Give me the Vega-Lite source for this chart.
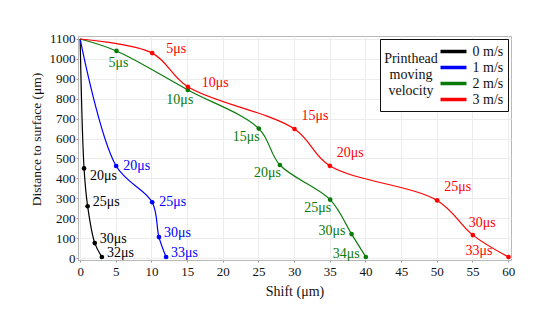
{
  "$schema": "https://vega.github.io/schema/vega-lite/v6.json",
  "width": 433,
  "height": 224,
  "autosize": {"type": "none"},
  "padding": {"left": 78, "top": 36, "right": 39, "bottom": 62},
  "background": "white",
  "config": {
    "font": "Liberation Serif",
    "view": {"stroke": "#b8b8b8", "strokeWidth": 1},
    "axis": {
      "labelFont": "Liberation Serif",
      "labelFontSize": 13,
      "labelColor": "#111",
      "titleFont": "Liberation Serif",
      "titleFontSize": 14,
      "titleFontWeight": "normal",
      "titleColor": "#111",
      "gridColor": "#ececec",
      "domainColor": "#b8b8b8",
      "tickColor": "#999",
      "tickSize": 2
    },
    "legend": {
      "labelFont": "Liberation Serif",
      "titleFont": "Liberation Serif",
      "strokeColor": "#111"
    }
  },
  "data": {
    "values": [
      {"v": "0 m/s", "x": 0, "y": 1100, "t": null},
      {"v": "0 m/s", "x": 0.55, "y": 450, "t": "20μs"},
      {"v": "0 m/s", "x": 1.05, "y": 260, "t": "25μs"},
      {"v": "0 m/s", "x": 2.05, "y": 75, "t": "30μs"},
      {"v": "0 m/s", "x": 3.05, "y": 5, "t": "32μs"},
      {"v": "1 m/s", "x": 0, "y": 1100, "t": null},
      {"v": "1 m/s", "x": 5.05, "y": 462, "t": "20μs"},
      {"v": "1 m/s", "x": 10.1, "y": 280, "t": "25μs"},
      {"v": "1 m/s", "x": 11.05, "y": 105, "t": "30μs"},
      {"v": "1 m/s", "x": 12.05, "y": 5, "t": "33μs"},
      {"v": "2 m/s", "x": 0, "y": 1100, "t": null},
      {"v": "2 m/s", "x": 5.1, "y": 1040, "t": "5μs"},
      {"v": "2 m/s", "x": 15.1, "y": 844, "t": "10μs"},
      {"v": "2 m/s", "x": 25.05, "y": 650, "t": "15μs"},
      {"v": "2 m/s", "x": 28.0, "y": 467, "t": "20μs"},
      {"v": "2 m/s", "x": 35.05, "y": 293, "t": "25μs"},
      {"v": "2 m/s", "x": 38.05, "y": 120, "t": "30μs"},
      {"v": "2 m/s", "x": 40.05, "y": 5, "t": "34μs"},
      {"v": "3 m/s", "x": 0, "y": 1100, "t": null},
      {"v": "3 m/s", "x": 10.1, "y": 1029, "t": "5μs"},
      {"v": "3 m/s", "x": 15.1, "y": 860, "t": "10μs"},
      {"v": "3 m/s", "x": 30.05, "y": 648, "t": "15μs"},
      {"v": "3 m/s", "x": 35.0, "y": 463, "t": "20μs"},
      {"v": "3 m/s", "x": 50.05, "y": 289, "t": "25μs"},
      {"v": "3 m/s", "x": 55.05, "y": 115, "t": "30μs"},
      {"v": "3 m/s", "x": 60.05, "y": 5, "t": "33μs"}
    ]
  },
  "encoding": {
    "x": {
      "field": "x", "type": "quantitative",
      "scale": {"domain": [-0.3, 60.4], "nice": false, "zero": false},
      "axis": {"title": "Shift (μm)", "values": [0,5,10,15,20,25,30,35,40,45,50,55,60], "format": "d", "labelPadding": 3, "titlePadding": 6}
    },
    "y": {
      "field": "y", "type": "quantitative",
      "scale": {"domain": [-10, 1115], "nice": false, "zero": false},
      "axis": {"title": "Distance to surface (μm)", "values": [0,100,200,300,400,500,600,700,800,900,1000,1100], "format": "d", "labelPadding": 1, "titlePadding": 6, "titleFontSize": 13.5, "titleY": 103}
    },
    "color": {
      "field": "v", "type": "nominal",
      "scale": {"domain": ["0 m/s", "1 m/s", "2 m/s", "3 m/s"], "range": ["#000000", "#0000ff", "#0a7a0a", "#ff0000"]}
    }
  },
  "layer": [
    {
      "mark": {"type": "line", "interpolate": "catmull-rom", "strokeWidth": 1.2},
      "encoding": {
        "color": {
          "field": "v", "type": "nominal",
          "scale": {"domain": ["0 m/s", "1 m/s", "2 m/s", "3 m/s"], "range": ["#000000", "#0000ff", "#0a7a0a", "#ff0000"]},
          "legend": {
            "title": ["Printhead", "moving", "velocity"],
            "orient": "top-right",
            "offset": 3,
            "titleOrient": "left",
            "titleAnchor": "middle",
            "titleAlign": "center",
            "titleBaseline": "middle",
            "titleFontSize": 14,
            "titleFontWeight": "normal",
            "titleColor": "#111",
            "titleLineHeight": 16,
            "titlePadding": -20,
            "labelFontSize": 14,
            "labelColor": "#111",
            "labelOffset": 10.5,
            "symbolType": "M-2,0H2",
            "symbolStrokeWidth": 3.5,
            "symbolSize": 169,
            "symbolOffset": 0,
            "rowPadding": 0,
            "strokeColor": "#111",
            "fillColor": "white",
            "padding": 4
          }
        }
      }
    },
    {
      "transform": [{"filter": "datum.t != null"}],
      "mark": {"type": "point", "filled": true, "size": 22, "opacity": 1},
      "encoding": {"color": {"field": "v", "type": "nominal", "legend": null}}
    },
    {
      "transform": [{"filter": "datum.t != null && ((datum.v == '0 m/s' && datum.t != '20μs') || (datum.v == '1 m/s' && (datum.t == '30μs' || datum.t == '33μs')))"}],
      "mark": {"type": "text", "align": "left", "baseline": "middle", "dx": 5, "dy": -4, "fontSize": 14, "font": "Liberation Serif"},
      "encoding": {"text": {"field": "t"}, "color": {"field": "v", "type": "nominal", "legend": null}}
    },
    {
      "transform": [{"filter": "datum.v == '0 m/s' && datum.t == '20μs'"}],
      "mark": {"type": "text", "align": "left", "baseline": "middle", "dx": 6, "dy": 8, "fontSize": 14, "font": "Liberation Serif"},
      "encoding": {"text": {"field": "t"}, "color": {"field": "v", "type": "nominal", "legend": null}}
    },
    {
      "transform": [{"filter": "datum.v == '1 m/s' && (datum.t == '20μs' || datum.t == '25μs')"}],
      "mark": {"type": "text", "align": "left", "baseline": "middle", "dx": 7, "dy": 0, "fontSize": 14, "font": "Liberation Serif"},
      "encoding": {"text": {"field": "t"}, "color": {"field": "v", "type": "nominal", "legend": null}}
    },
    {
      "transform": [{"filter": "datum.v == '2 m/s' && datum.t == '5μs'"}],
      "mark": {"type": "text", "align": "center", "baseline": "middle", "dx": 2, "dy": 12, "fontSize": 14, "font": "Liberation Serif"},
      "encoding": {"text": {"field": "t"}, "color": {"field": "v", "type": "nominal", "legend": null}}
    },
    {
      "transform": [{"filter": "datum.v == '2 m/s' && datum.t == '10μs'"}],
      "mark": {"type": "text", "align": "center", "baseline": "middle", "dx": -8, "dy": 10, "fontSize": 14, "font": "Liberation Serif"},
      "encoding": {"text": {"field": "t"}, "color": {"field": "v", "type": "nominal", "legend": null}}
    },
    {
      "transform": [{"filter": "datum.v == '2 m/s' && (datum.t == '15μs' || datum.t == '20μs' || datum.t == '25μs')"}],
      "mark": {"type": "text", "align": "right", "baseline": "middle", "dx": 1, "dy": 8, "fontSize": 14, "font": "Liberation Serif"},
      "encoding": {"text": {"field": "t"}, "color": {"field": "v", "type": "nominal", "legend": null}}
    },
    {
      "transform": [{"filter": "datum.v == '2 m/s' && (datum.t == '30μs' || datum.t == '34μs')"}],
      "mark": {"type": "text", "align": "right", "baseline": "middle", "dx": -6, "dy": -3, "fontSize": 14, "font": "Liberation Serif"},
      "encoding": {"text": {"field": "t"}, "color": {"field": "v", "type": "nominal", "legend": null}}
    },
    {
      "transform": [{"filter": "datum.v == '3 m/s' && datum.t == '33μs'"}],
      "mark": {"type": "text", "align": "right", "baseline": "middle", "dx": -16, "dy": -6, "fontSize": 14, "font": "Liberation Serif"},
      "encoding": {"text": {"field": "t"}, "color": {"field": "v", "type": "nominal", "legend": null}}
    },
    {
      "transform": [{"filter": "datum.v == '3 m/s' && (datum.t == '5μs' || datum.t == '10μs')"}],
      "mark": {"type": "text", "align": "left", "baseline": "middle", "dx": 14, "dy": -4, "fontSize": 14, "font": "Liberation Serif"},
      "encoding": {"text": {"field": "t"}, "color": {"field": "v", "type": "nominal", "legend": null}}
    },
    {
      "transform": [{"filter": "datum.v == '3 m/s' && (datum.t == '15μs' || datum.t == '20μs' || datum.t == '25μs')"}],
      "mark": {"type": "text", "align": "left", "baseline": "middle", "dx": 7, "dy": -13, "fontSize": 14, "font": "Liberation Serif"},
      "encoding": {"text": {"field": "t"}, "color": {"field": "v", "type": "nominal", "legend": null}}
    },
    {
      "transform": [{"filter": "datum.v == '3 m/s' && datum.t == '30μs'"}],
      "mark": {"type": "text", "align": "left", "baseline": "middle", "dx": -4, "dy": -12, "fontSize": 14, "font": "Liberation Serif"},
      "encoding": {"text": {"field": "t"}, "color": {"field": "v", "type": "nominal", "legend": null}}
    }
  ]
}
